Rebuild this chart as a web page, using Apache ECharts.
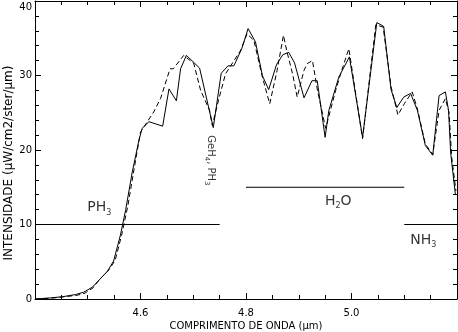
<!DOCTYPE html>
<html><head><meta charset="utf-8">
<script src="https://cdn.jsdelivr.net/npm/echarts@6/dist/echarts.min.js"></script>
<style>html,body{margin:0;padding:0;background:#fff}#c{width:458px;height:332px}</style>
</head><body><div id="c"></div>
<script>
// Solid spectrum
const solidX = [4.401,4.429,4.452,4.477,4.492,4.509,4.537,4.549,4.562,4.572,4.584,4.597,4.603,4.616,4.642,4.654,4.668,4.676,4.687,4.712,4.738,4.753,4.766,4.777,4.792,4.804,4.818,4.831,4.843,4.858,4.870,4.881,4.892,4.910,4.925,4.935,4.950,4.957,4.976,4.996,5.021,5.048,5.061,5.075,5.086,5.099,5.112,5.125,5.140,5.154,5.166,5.178,5.184,5.188,5.197];
const solidY = [0.0,0.15,0.3,0.6,0.9,1.6,3.7,5.1,8.6,12.0,16.9,21.3,22.9,23.8,23.2,28.2,26.6,30.9,32.7,31.0,23.0,30.3,31.3,31.3,33.6,36.3,34.5,30.0,28.1,31.5,32.8,33.1,31.7,27.0,29.3,29.3,21.7,25.3,29.8,32.5,21.7,37.1,36.6,28.1,25.7,27.1,27.6,25.3,20.6,19.3,27.3,27.8,25.3,19.6,14.0];
// Dashed spectrum
const dashX = [4.401,4.43,4.455,4.48,4.495,4.51,4.522,4.54,4.552,4.564,4.576,4.588,4.6,4.625,4.638,4.656,4.662,4.682,4.701,4.714,4.731,4.736,4.748,4.761,4.771,4.79,4.802,4.815,4.831,4.845,4.859,4.871,4.877,4.889,4.897,4.910,4.916,4.926,4.935,4.951,4.970,4.982,4.995,5.021,5.046,5.060,5.075,5.088,5.100,5.115,5.125,5.140,5.154,5.166,5.178,5.185,5.190,5.198];
const dashY = [0.0,0.1,0.3,0.5,0.8,1.5,2.6,3.9,5.2,8.5,12.5,17.5,22.4,25.1,26.9,30.9,30.9,32.7,31.6,28.0,25.3,23.3,26.7,30.2,31.3,33.4,35.6,34.7,29.8,26.2,30.7,35.4,33.4,30.0,27.1,30.7,31.6,32.0,28.2,22.9,28.0,30.8,33.6,21.5,36.8,36.5,28.5,24.7,26.2,27.8,25.5,20.8,19.4,25.3,26.9,25.0,19.0,14.5];
// Absorption band markers
const bandNames = ['PH3','H2O','NH3'];
const bandLabels = ['{n|PH}{s|3}','{n|H}{s|2}{n|O}','{n|NH}{s|3}'];
const bandX0 = [4.4, 4.8, 5.1];
const bandX1 = [4.75, 5.1, 5.2];
const bandY = [10, 15, 10];
const bandLabelX = [4.522, 4.975, 5.136];
const bandLabelY = [12.4, 13.3, 8.0];
// Rotated annotation
const noteText = '{n|GeH}{s|4}{n|, PH}{s|3}';
const noteX = 4.735, noteY = 18.6;
// Axis ticks
const xMin = 4.4, xMax = 5.2, xStep = 0.2;
const yMin = 0, yMax = 40, yStep = 10;
const xTitle = 'COMPRIMENTO DE ONDA (μm)';
const yTitle = 'INTENSIDADE (μW/cm2/ster/μm)';

const FONT = 'DejaVu Sans';
const zip = (a, b) => a.map((v, i) => [v, b[i]]);
const axisCommon = {
  axisLine: {show: true, onZero: false, lineStyle: {color: '#000', width: 1}},
  axisTick: {show: true, inside: true, length: 6, lineStyle: {color: '#000'}},
  splitLine: {show: false}
};
const chart = echarts.init(document.getElementById('c'), null, {renderer: 'canvas'});
const series = [
  {type: 'line', data: zip(solidX, solidY), symbol: 'none', lineStyle: {color: '#000', width: 1}, z: 3},
  {type: 'line', data: zip(dashX, dashY), symbol: 'none', lineStyle: {color: '#000', width: 1, type: [5, 3]}, z: 3}
];
bandNames.forEach((nm, i) => {
  series.push({type: 'line', name: nm, data: [[bandX0[i], bandY[i]], [bandX1[i], bandY[i]]], symbol: 'none', lineStyle: {color: '#000', width: 1}});
});
const richBig = {n: {fontFamily: FONT, fontSize: 14, color: '#000', lineHeight: 16, verticalAlign: 'bottom'}, s: {fontFamily: FONT, fontSize: 8, color: '#000', lineHeight: 8, verticalAlign: 'bottom', padding: [0,0,-2,0]}};
series.push({
  type: 'scatter', symbolSize: 0,
  data: bandLabelX.map((x, i) => ({value: [x, bandLabelY[i]], label: {formatter: bandLabels[i]}})),
  label: {show: true, position: 'inside', rich: richBig}
});
series.push({
  type: 'scatter', symbolSize: 0,
  data: [[noteX, noteY]],
  label: {show: true, position: 'inside', rotate: -90, formatter: noteText,
    rich: {n: {fontFamily: FONT, fontSize: 10, color: '#000', lineHeight: 12, verticalAlign: 'bottom'}, s: {fontFamily: FONT, fontSize: 7, color: '#000', lineHeight: 7, verticalAlign: 'bottom', padding: [0,0,-2,0]}}}
});
const xMinor = {show: true, splitNumber: 4, length: 4, lineStyle: {color: '#000'}};
const yMinor = {show: true, splitNumber: 5, length: 4, lineStyle: {color: '#000'}};
chart.setOption({
  animation: false,
  backgroundColor: '#fff',
  grid: {left: 35, right: 1, top: 1, bottom: 33, containLabel: false, outerBoundsMode: 'none'},
  xAxis: [
    Object.assign({type: 'value', min: xMin, max: xMax, interval: xStep, position: 'bottom',
      name: xTitle, nameLocation: 'middle', nameGap: 22, nameMoveOverlap: false,
      nameTextStyle: {fontFamily: FONT, fontSize: 10, color: '#000'},
      axisLabel: {fontFamily: FONT, fontSize: 10, color: '#000', margin: 9,
        formatter: v => (v > xMin + 0.01 && v < xMax - 0.01) ? v.toFixed(1) : ''}}, axisCommon, {minorTick: xMinor}),
    Object.assign({type: 'value', min: xMin, max: xMax, interval: xStep, position: 'top', axisLabel: {show: false}}, axisCommon, {minorTick: xMinor})
  ],
  yAxis: [
    Object.assign({type: 'value', min: yMin, max: yMax, interval: yStep, position: 'left',
      name: yTitle, nameLocation: 'middle', nameGap: 20, nameMoveOverlap: false,
      nameTextStyle: {fontFamily: FONT, fontSize: 12, color: '#000', padding: [0, 26, 0, 0]},
      axisLabel: {fontFamily: FONT, fontSize: 10, color: '#000', margin: 3,
        formatter: v => v === yMax ? '{t|' + v + '}' : String(v),
        rich: {t: {fontFamily: FONT, fontSize: 10, color: '#000', padding: [12, 0, 0, 0]}}}}, axisCommon, {minorTick: yMinor}),
    Object.assign({type: 'value', min: yMin, max: yMax, interval: yStep, position: 'right', axisLabel: {show: false}}, axisCommon, {minorTick: yMinor})
  ],
  series: series
});
</script></body></html>
